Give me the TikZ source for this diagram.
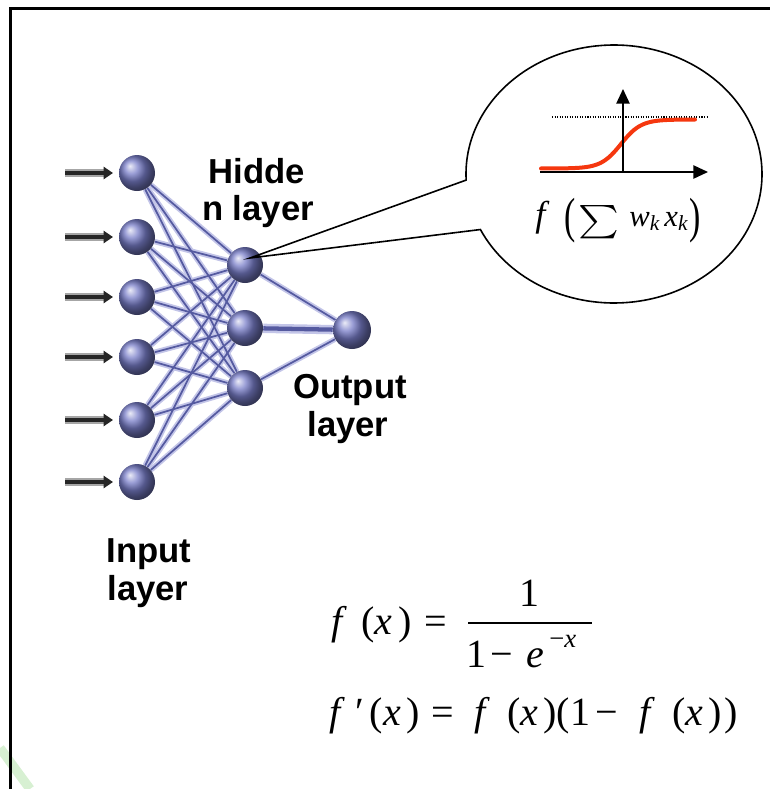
\documentclass[tikz,border=0pt]{standalone}
\usepackage{fontspec}
\setmainfont{Liberation Serif}
\setsansfont{Liberation Sans}
\usetikzlibrary{arrows.meta,calc}
\definecolor{edgecol}{RGB}{85,90,160}
\definecolor{edgehalo}{RGB}{195,197,232}
\definecolor{ballcol}{RGB}{120,125,200}
\definecolor{sigred}{RGB}{245,55,15}
\definecolor{greenish}{RGB}{215,240,210}
\begin{document}
\begin{tikzpicture}[x=0.75pt,y=-0.75pt,
  neuron/.style={circle,minimum size=27pt,inner sep=0pt},
  halo/.style={edgehalo,line width=4pt},
  wire/.style={edgecol,line width=1.3pt},
  inhalo/.style={black!35,line width=6pt},
  inarrow/.style={black!85,line width=3pt,-{Triangle[length=7pt,width=9pt]}},
  lbl/.style={font=\sffamily\bfseries\fontsize{26}{28}\selectfont,inner sep=0pt,anchor=base},
  eqn/.style={font=\fontsize{30}{34}\selectfont,inner sep=0pt,anchor=base west},
  axisline/.style={black,line width=1.1pt,-{Triangle[length=11pt,width=10pt]}},
  bubble/.style={black,line width=1.2pt,line join=miter}]
\useasboundingbox (0,0) rectangle (770,789);
% faint background artefact
\draw[greenish,line width=7pt] (0,748) -- (30,789);
% frame
\draw[line width=1.9pt] (10.5,789) -- (10.5,8.5) -- (770,8.5);
% neuron positions
\node[neuron] (i1) at (137,173) {};
\node[neuron] (i2) at (137,237) {};
\node[neuron] (i3) at (137,297) {};
\node[neuron] (i4) at (137,357) {};
\node[neuron] (i5) at (137,420) {};
\node[neuron] (i6) at (137,482) {};
\node[neuron] (h1) at (245,265) {};
\node[neuron] (h2) at (245,328) {};
\node[neuron] (h3) at (245,388) {};
\node[neuron,minimum size=28.5pt] (o1) at (352,330) {};
% connections
\path
  \foreach \i in {1,...,6} { \foreach \j in {1,2,3} { (i\i) edge[halo] (h\j) } }
  \foreach \j in {1,3} { (h\j) edge[halo] (o1) }
  (h2) edge[edgehalo,line width=7pt] (o1);
\path
  \foreach \i in {1,...,6} { \foreach \j in {1,2,3} { (i\i) edge[wire] (h\j) } }
  \foreach \j in {1,3} { (h\j) edge[wire] (o1) }
  (h2) edge[edgecol,line width=3.2pt] (o1);
% spheres drawn on top of the wires
\foreach \n in {i1,i2,i3,i4,i5,i6,h1,h2,h3} {
  \shade[ball color=ballcol] (\n.center) circle[radius=13.5pt];
}
\shade[ball color=ballcol] (o1.center) circle[radius=14.25pt];
% input arrows
\foreach \i in {1,...,6} {
  \coordinate (s\i) at ($(i\i.center)+(-72,0)$);
  \coordinate (t\i) at ($(i\i.center)+(-24,0)$);
  \draw[inhalo] (s\i) -- ($(t\i)+(-6,0)$);
  \draw[inarrow] (s\i) -- (t\i);
}
% labels
\node[lbl] (hl1) at (257,183) {Hidde};
\node[lbl] (hl2) at (258,220) {n layer};
\node[lbl] (ol1) at (350,398) {Output};
\node[lbl] (ol2) at (348,436) {layer};
\node[lbl] (il1) at (149,562) {Input};
\node[lbl] (il2) at (148,600) {layer};
% callout bubble
\coordinate (bc) at (614,174);
\coordinate (tip) at ($(h1.center)+(5,-7)$);
\draw[bubble] (tip) -- ($(bc)+(177.3:148 and 129)$)
  arc[start angle=177.3,end angle=514.5,x radius=148,y radius=129] -- cycle;
% sigmoid plot
\draw[black,line width=0.8pt,dash pattern=on 0.8pt off 1.1pt] (552,117) -- (707,117);
\draw[sigred,line width=3pt,line cap=round]
  plot[domain=541:695,samples=80,smooth] (\x,{168.5-49/(1+exp(-(\x-621)/10))});
\draw[axisline] (540,172) -- (708,172);
\draw[axisline] (623,172) -- (623,89);
\node[font=\fontsize{19.5}{22}\selectfont,inner sep=0pt,anchor=base west] (act) at (535,226)
  {{\fontsize{27}{30}\selectfont\textit{f}}\hspace{11pt}\raisebox{-4.5pt}{\scalebox{1.3}[1.9]{(}}\hspace{2pt}\raisebox{-3pt}{\scalebox{2.9}[2.5]{\fontsize{10}{12}\selectfont$\sum$}}\hspace{8pt}{\fontsize{23}{26}\selectfont\textit{w}\textsubscript{\textit{k}}\hspace{3pt}\textit{x}\textsubscript{\textit{k}}}\hspace{1pt}\raisebox{-4.5pt}{\scalebox{1.3}[1.9]{)}}};
% formulas
\node[eqn] (fx) at (331,634) {\textit{f}\hspace{11pt}(\textit{x}\hspace{4pt})\hspace{10pt}=};
\draw[line width=1.5pt] (468,623) -- (592,623);
\node[font=\fontsize{30}{34}\selectfont,inner sep=0pt,anchor=base] (num) at (529,606) {1};
\node[eqn] (den) at (466,667) {1\hspace{3pt}−\hspace{10pt}\textit{e}\hspace{4pt}\raisebox{15pt}{\fontsize{20}{22}\selectfont −\textit{x}}};
\node[eqn] (dfx) at (329,725) {\textit{f}\hspace{8pt}′\hspace{4pt}(\textit{x}\hspace{4pt})\hspace{9pt}=\hspace{15pt}\textit{f}\hspace{13pt}(\textit{x}\hspace{4pt})(1\hspace{4pt}−\hspace{16pt}\textit{f}\hspace{13pt}(\textit{x}\hspace{4pt})\hspace{1.5pt})};
\end{tikzpicture}
\end{document}
